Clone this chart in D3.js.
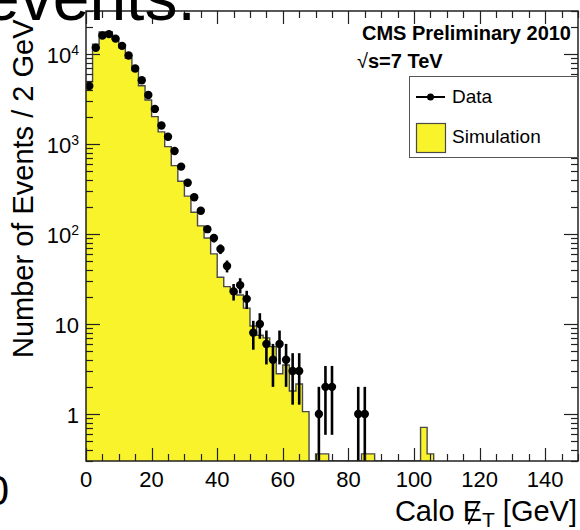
<!DOCTYPE html>
<html>
<head>
<meta charset="utf-8">
<script src="https://cdn.jsdelivr.net/npm/d3@7"></script>
<style>
  body { margin: 0; background: #fff; }
  svg { display: block; font-family: "Liberation Sans", Arial, Helvetica, sans-serif; }
</style>
</head>
<body>
<div id="chart"></div>
<script>
// histogram of calo MET, 2 GeV bins starting at 0
const binWidth = 2;

// observed counts per bin (0-2, 2-4, ...)
const dataCounts = [4400, 11700, 16000, 16600, 14800, 12300, 9600, 6900, 5100, 3500,
  2450, 1600, 1200, 836, 560, 371, 256, 181, 113, 90,
  68, 44, 23, 27, 19, 8, 10, 6, 4, 6,
  4, 3, 3, 0, 0, 1, 2, 2, 0, 0,
  0, 1, 1];

// simulation (normalised), same binning
const simCounts = [4900, 12800, 17500, 17500, 14600, 11700, 8950, 6530, 4440, 3080,
  2010, 1360, 934, 574, 385, 263, 174, 123, 90, 60,
  33, 26, 23, 21, 15, 9.5, 7.5, 7, 5.6, 2.8,
  3.5, 1.8, 2.15, 1.06, 0, 0.36, 0.36, 0, 0, 0,
  0, 0, 0.36, 0.36, 0, 0, 0, 0, 0, 0,
  0, 0.71, 0.36];

const xTicks = [0, 20, 40, 60, 80, 100, 120, 140];
const yTicks = [1, 10, 100, 1000, 10000];
const yTickLabels = [['1', ''], ['10', ''], ['10', '2'], ['10', '3'], ['10', '4']];

const width = 580;
const height = 530;
const xDomain = [0, 150];
const yDomain = [0.3, 3e4];

const plotLeft = 86, plotRight = 578, plotTop = 11, plotBottom = 461;

const x = d3.scaleLinear().domain(xDomain).range([plotLeft, plotRight]);
const y = d3.scaleLog().domain(yDomain).range([plotBottom, plotTop]);

const frameColor = '#222';
const yellow = '#f9f32c';

const svg = d3.select('#chart')
  .append('svg')
  .attr('width', width)
  .attr('height', height);

svg.append('defs').append('clipPath')
  .attr('id', 'plot-clip')
  .append('rect')
  .attr('x', plotLeft).attr('y', plotTop)
  .attr('width', plotRight - plotLeft).attr('height', plotBottom - plotTop);

const plot = svg.append('g').attr('clip-path', 'url(#plot-clip)');

// step points at bin edges, last one drops back to the floor
const simSteps = simCounts.map((v, i) => ({ edge: i * binWidth, v }));
simSteps.push({ edge: simCounts.length * binWidth, v: 0 });

const clampY = v => y(Math.max(v, yDomain[0]));

plot.append('path')
  .datum(simSteps)
  .attr('fill', yellow)
  .attr('d', d3.area()
    .x(d => x(d.edge))
    .y0(plotBottom)
    .y1(d => clampY(d.v))
    .curve(d3.curveStepAfter));

plot.append('path')
  .datum(simSteps)
  .attr('fill', 'none')
  .attr('stroke', '#4a4a4a')
  .attr('stroke-width', 1.4)
  .attr('d', d3.line()
    .x(d => x(d.edge))
    .y(d => clampY(d.v))
    .curve(d3.curveStepAfter));

// data points with poisson errors
const points = dataCounts
  .map((n, i) => ({ c: i * binWidth + binWidth / 2, n }))
  .filter(d => d.n > 0);

plot.selectAll('line.err')
  .data(points)
  .enter()
    .append('line')
    .attr('class', 'err')
    .attr('x1', d => x(d.c))
    .attr('x2', d => x(d.c))
    .attr('y1', d => clampY(d.n - Math.sqrt(d.n)))
    .attr('y2', d => clampY(d.n + Math.sqrt(d.n)))
    .attr('stroke', '#000')
    .attr('stroke-width', 2.6);

plot.selectAll('circle.pt')
  .data(points)
  .enter()
    .append('circle')
    .attr('class', 'pt')
    .attr('cx', d => x(d.c))
    .attr('cy', d => y(d.n))
    .attr('r', 4.2)
    .attr('fill', '#000');

// ticks on all four sides
const axes = svg.append('g')
  .attr('stroke', frameColor)
  .attr('stroke-width', 1.2);

const isDecade = v => Math.abs(Math.log10(v) - Math.round(Math.log10(v))) < 1e-9;

y.ticks().forEach(v => {
  const len = isDecade(v) ? 14 : 7;
  const yy = Math.round(y(v)) + 0.5;
  axes.append('line').attr('x1', plotLeft).attr('x2', plotLeft + len).attr('y1', yy).attr('y2', yy);
  axes.append('line').attr('x1', plotRight).attr('x2', plotRight - len).attr('y1', yy).attr('y2', yy);
});

x.ticks(30).forEach(v => {
  const len = xTicks.includes(v) ? 13 : 7;
  const xx = Math.round(x(v)) + 0.5;
  axes.append('line').attr('x1', xx).attr('x2', xx).attr('y1', plotBottom).attr('y2', plotBottom - len);
  axes.append('line').attr('x1', xx).attr('x2', xx).attr('y1', plotTop).attr('y2', plotTop + len);
});

svg.append('rect')
  .attr('x', plotLeft).attr('y', plotTop)
  .attr('width', plotRight - plotLeft).attr('height', plotBottom - plotTop)
  .attr('fill', 'none')
  .attr('stroke', frameColor)
  .attr('stroke-width', 1.5);

// tick labels
svg.selectAll('text.xt')
  .data(xTicks)
  .enter()
    .append('text')
    .attr('class', 'xt')
    .attr('x', d => x(d))
    .attr('y', 487)
    .attr('text-anchor', 'middle')
    .style('font-size', '22px')
    .text(d => d);

yTicks.forEach((v, i) => {
  const t = svg.append('text')
    .attr('x', 79)
    .attr('y', y(v) + 9)
    .attr('text-anchor', 'end')
    .style('font-size', '22px');
  t.append('tspan').text(yTickLabels[i][0]);
  if (yTickLabels[i][1]) {
    t.append('tspan').attr('dy', -8).style('font-size', '14px').text(yTickLabels[i][1]);
  }
});

// axis titles
svg.append('text')
  .attr('transform', 'translate(33,358) rotate(-90)')
  .style('font-size', '29px')
  .text('Number of Events / 2 GeV');

const xt = svg.append('text')
  .attr('x', 577)
  .attr('y', 521)
  .attr('text-anchor', 'end')
  .style('font-size', '29px');
xt.append('tspan').text('Calo ');
xt.append('tspan').text('E');
xt.append('tspan').attr('dy', 6).style('font-size', '21px').text('T');
xt.append('tspan').attr('dy', -6).text(' [GeV]');

// slash through the E (missing transverse energy)
const eBox = xt.node().getExtentOfChar(5);
svg.append('line')
  .attr('x1', eBox.x + eBox.width * 0.3)
  .attr('y1', eBox.y + eBox.height * 0.92)
  .attr('x2', eBox.x + eBox.width * 0.85)
  .attr('y2', eBox.y + eBox.height * 0.2)
  .attr('stroke', '#000')
  .attr('stroke-width', 1.6);

// cms labels
svg.append('text')
  .attr('x', 571)
  .attr('y', 40)
  .attr('text-anchor', 'end')
  .style('font-size', '20px')
  .style('font-weight', 'bold')
  .text('CMS Preliminary 2010');

const energy = svg.append('text')
  .attr('x', 357)
  .attr('y', 68)
  .style('font-size', '20px');
energy.append('tspan').text('\u221a');
energy.append('tspan').style('font-weight', 'bold').text('s=7 TeV');

// legend
const legend = svg.append('g');
legend.append('rect')
  .attr('x', 409.5).attr('y', 76.5)
  .attr('width', 168).attr('height', 81)
  .attr('fill', '#fff')
  .attr('stroke', '#555')
  .attr('stroke-width', 1);
legend.append('line')
  .attr('x1', 416).attr('x2', 445).attr('y1', 97).attr('y2', 97)
  .attr('stroke', '#000').attr('stroke-width', 2);
legend.append('circle')
  .attr('cx', 430.5).attr('cy', 97).attr('r', 3.5).attr('fill', '#000');
legend.append('text')
  .attr('x', 452).attr('y', 103)
  .style('font-size', '19px')
  .text('Data');
legend.append('rect')
  .attr('x', 416.5).attr('y', 123.5)
  .attr('width', 29).attr('height', 29)
  .attr('fill', yellow)
  .attr('stroke', '#4a4a4a')
  .attr('stroke-width', 1.2);
legend.append('text')
  .attr('x', 452).attr('y', 143)
  .style('font-size', '19px')
  .text('Simulation');

// pieces of neighbouring figures cut by the crop
svg.append('text')
  .attr('x', -17)
  .attr('y', 20)
  .style('font-size', '66px')
  .text('events.');

svg.append('text')
  .attr('x', 9)
  .attr('y', 505)
  .attr('text-anchor', 'end')
  .style('font-size', '42px')
  .text('0');
</script>
</body>
</html>
